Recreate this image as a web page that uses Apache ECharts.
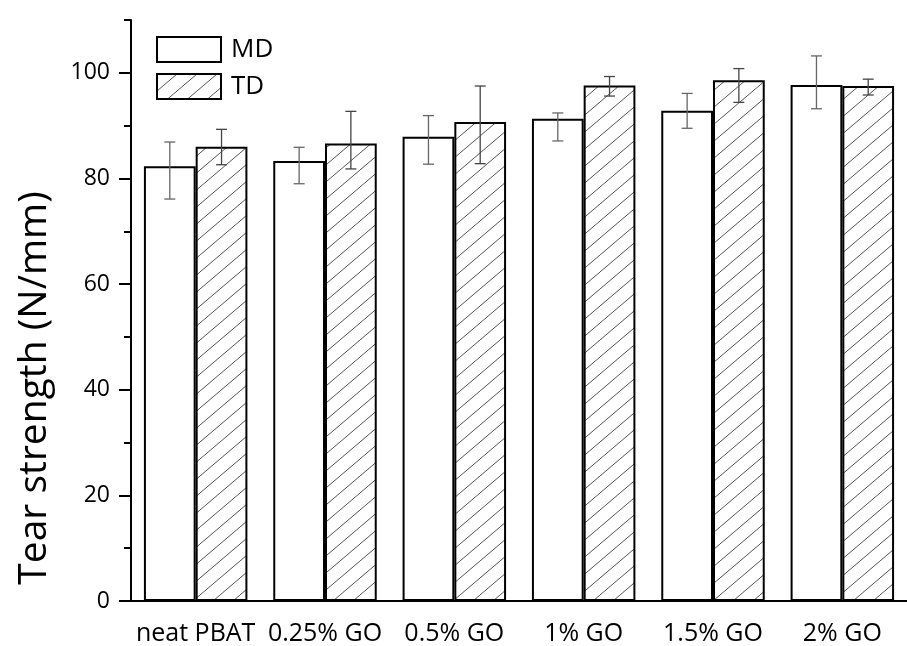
<!DOCTYPE html>
<html>
<head>
<meta charset="utf-8">
<script src="https://cdn.jsdelivr.net/npm/echarts@6/dist/echarts.min.js"></script>
<style>
  html, body { margin: 0; padding: 0; background: #fff; }
  #chart { width: 907px; height: 646px; }
</style>
</head>
<body>
<div id="chart"></div>
<script>
// Tear strength of PBAT films with graphene oxide, machine (MD) and transverse (TD) direction
const categories = ['neat PBAT', '0.25% GO', '0.5% GO', '1% GO', '1.5% GO', '2% GO'];
const mdValues = [82.3, 83.3, 87.9, 91.3, 92.8, 97.7];
const mdErrHigh = [86.9, 85.9, 91.9, 92.4, 96.1, 103.2];
const mdErrLow = [76.1, 79.0, 82.7, 87.1, 89.5, 93.2];
const tdValues = [86.0, 86.6, 90.7, 97.6, 98.6, 97.5];
const tdErrHigh = [89.3, 92.7, 97.5, 99.3, 100.8, 98.8];
const tdErrLow = [82.6, 81.8, 82.8, 95.6, 94.4, 95.8];
const yMajorTicks = [0, 20, 40, 60, 80, 100];
const yMinorTicks = [10, 30, 50, 70, 90, 110];

const FONT = '"Open Sans", "DejaVu Sans", sans-serif';

// diagonal hatch tile for TD bars
function makeHatch() {
  const c = document.createElement('canvas');
  c.width = 20; c.height = 17;
  const ctx = c.getContext('2d');
  ctx.fillStyle = '#ffffff';
  ctx.fillRect(0, 0, 20, 17);
  ctx.strokeStyle = '#555555';
  ctx.lineWidth = 1;
  ctx.beginPath();
  ctx.moveTo(-2, 17 + 1.7);
  ctx.lineTo(22, -1.7);
  ctx.stroke();
  return c;
}
const hatch = { image: makeHatch(), repeat: 'repeat' };

// error bar renderer; offset is the bar centre shift in band fractions
function errorBars(low, high, offset, color) {
  return {
    type: 'custom',
    xAxisIndex: 0,
    yAxisIndex: 0,
    z: 5,
    data: categories.map((c, i) => [i, low[i], high[i]]),
    renderItem: function (params, api) {
      const i = api.value(0);
      const band = api.size([1, 0])[0];
      const lo = api.coord([i, api.value(1)]);
      const hi = api.coord([i, api.value(2)]);
      const x = lo[0] + offset * band;
      const cap = 5.5;
      const style = { stroke: color, lineWidth: 1.3 };
      return {
        type: 'group',
        children: [
          { type: 'line', shape: { x1: x, y1: lo[1], x2: x, y2: hi[1] }, style: style },
          { type: 'line', shape: { x1: x - cap, y1: lo[1], x2: x + cap, y2: lo[1] }, style: style },
          { type: 'line', shape: { x1: x - cap, y1: hi[1], x2: x + cap, y2: hi[1] }, style: style }
        ]
      };
    }
  };
}

const chart = echarts.init(document.getElementById('chart'), null, { renderer: 'canvas' });

chart.setOption({
  backgroundColor: '#ffffff',
  animation: false,
  grid: { left: 131, right: -10, top: 20, bottom: 45 },
  legend: {
    orient: 'vertical',
    left: 156,
    top: 36,
    padding: 0,
    itemWidth: 64,
    itemHeight: 25,
    itemGap: 10,
    data: ['MD', 'TD'],
    icon: 'rect',
    textStyle: { fontFamily: FONT, fontSize: 26, color: '#000', padding: [0, 0, 0, 5] }
  },
  xAxis: [
    {
      type: 'category',
      data: categories,
      boundaryGap: true,
      axisLine: { lineStyle: { color: '#000', width: 2 } },
      axisTick: { alignWithLabel: true, length: 13, lineStyle: { color: '#000', width: 2 } },
      axisLabel: { fontFamily: FONT, fontSize: 25, color: '#000', margin: 20, interval: 0 }
    },
    {
      type: 'category',
      data: categories,
      position: 'bottom',
      boundaryGap: true,
      axisLine: { show: false },
      axisTick: { length: 7, lineStyle: { color: '#000', width: 2 } },
      axisLabel: { show: false }
    }
  ],
  yAxis: [
    {
      type: 'value',
      min: 0,
      max: 110,
      splitLine: { show: false },
      axisLine: { show: true, lineStyle: { color: '#000', width: 2 } },
      axisTick: { show: true, length: 12, customValues: yMajorTicks, lineStyle: { color: '#000', width: 2 } },
      axisLabel: { fontFamily: FONT, fontSize: 23, color: '#000', margin: 21, customValues: yMajorTicks }
    },
    {
      type: 'value',
      min: 0,
      max: 110,
      position: 'left',
      splitLine: { show: false },
      axisLine: { show: false },
      axisTick: { show: true, length: 7, customValues: yMinorTicks, lineStyle: { color: '#000', width: 2 } },
      axisLabel: { show: false }
    }
  ],
  graphic: [
    {
      type: 'text',
      x: 35,
      y: 388,
      rotation: Math.PI / 2,
      style: {
        text: 'Tear strength (N/mm)',
        fontFamily: FONT,
        fontSize: 39,
        fill: '#000',
        align: 'center',
        verticalAlign: 'middle'
      }
    }
  ],
  series: [
    {
      name: 'MD',
      type: 'bar',
      data: mdValues,
      barGap: '0%',
      barCategoryGap: '20%',
      itemStyle: { color: '#ffffff', borderColor: '#000', borderWidth: 2 }
    },
    {
      name: 'TD',
      type: 'bar',
      data: tdValues,
      barGap: '0%',
      barCategoryGap: '20%',
      itemStyle: { color: hatch, borderColor: '#000', borderWidth: 2 }
    },
    errorBars(mdErrLow, mdErrHigh, -0.2, '#666666'),
    errorBars(tdErrLow, tdErrHigh, 0.2, '#444444')
  ]
});
</script>
</body>
</html>
